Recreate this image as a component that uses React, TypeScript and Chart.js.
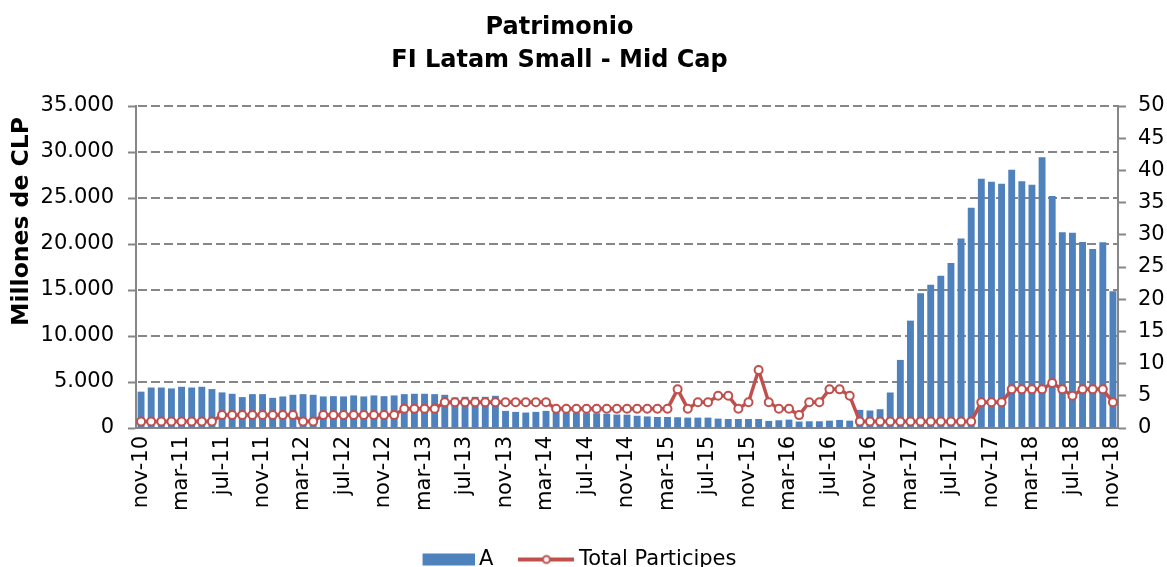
import React, { useEffect, useRef } from 'react';
import { Chart, registerables } from 'chart.js';

Chart.register(...registerables);

const CATEGORIES = [
  'nov-10', 'dic-10',
  'ene-11', 'feb-11', 'mar-11', 'abr-11', 'may-11', 'jun-11', 'jul-11', 'ago-11', 'sep-11', 'oct-11', 'nov-11', 'dic-11',
  'ene-12', 'feb-12', 'mar-12', 'abr-12', 'may-12', 'jun-12', 'jul-12', 'ago-12', 'sep-12', 'oct-12', 'nov-12', 'dic-12',
  'ene-13', 'feb-13', 'mar-13', 'abr-13', 'may-13', 'jun-13', 'jul-13', 'ago-13', 'sep-13', 'oct-13', 'nov-13', 'dic-13',
  'ene-14', 'feb-14', 'mar-14', 'abr-14', 'may-14', 'jun-14', 'jul-14', 'ago-14', 'sep-14', 'oct-14', 'nov-14', 'dic-14',
  'ene-15', 'feb-15', 'mar-15', 'abr-15', 'may-15', 'jun-15', 'jul-15', 'ago-15', 'sep-15', 'oct-15', 'nov-15', 'dic-15',
  'ene-16', 'feb-16', 'mar-16', 'abr-16', 'may-16', 'jun-16', 'jul-16', 'ago-16', 'sep-16', 'oct-16', 'nov-16', 'dic-16',
  'ene-17', 'feb-17', 'mar-17', 'abr-17', 'may-17', 'jun-17', 'jul-17', 'ago-17', 'sep-17', 'oct-17', 'nov-17', 'dic-17',
  'ene-18', 'feb-18', 'mar-18', 'abr-18', 'may-18', 'jun-18', 'jul-18', 'ago-18', 'sep-18', 'oct-18', 'nov-18',
];

// Patrimonio serie A (millones de CLP)
const SERIES_A = [
  3950, 4400, 4400, 4300, 4480, 4400, 4480, 4230, 3870, 3720,
  3360, 3680, 3680, 3280, 3430, 3610, 3680, 3610, 3430, 3460,
  3430, 3540, 3430, 3540, 3460, 3540, 3680, 3720, 3720, 3680,
  3610, 3320, 3390, 3390, 3390, 3500, 1860, 1750, 1680, 1750,
  1860, 1700, 1680, 1650, 1620, 1600, 1550, 1460, 1450, 1330,
  1260, 1200, 1200, 1170, 1130, 1130, 1130, 1020, 980, 980,
  980, 980, 770, 840, 910, 700, 730, 730, 800, 875,
  800, 1970, 1900, 2040, 3860, 7400, 11670, 14660, 15570, 16550,
  17940, 20600, 23950, 27090, 26760, 26540, 28070, 26830, 26430, 29420,
  25230, 21290, 21220, 20230, 19470, 20200, 14870,
];

// Total Participes
const TOTAL_PARTICIPES = [
  1, 1, 1, 1, 1, 1, 1, 1, 2, 2,
  2, 2, 2, 2, 2, 2, 1, 1, 2, 2,
  2, 2, 2, 2, 2, 2, 3, 3, 3, 3,
  4, 4, 4, 4, 4, 4, 4, 4, 4, 4,
  4, 3, 3, 3, 3, 3, 3, 3, 3, 3,
  3, 3, 3, 6, 3, 4, 4, 5, 5, 3,
  4, 9, 4, 3, 3, 2, 4, 4, 6, 6,
  5, 1, 1, 1, 1, 1, 1, 1, 1, 1,
  1, 1, 1, 4, 4, 4, 6, 6, 6, 6,
  7, 6, 5, 6, 6, 6, 4,
];

const TITLE_LINES = ['Patrimonio', 'FI Latam Small - Mid Cap'];
const LEFT_AXIS_TITLE = 'Millones de CLP';
const SERIES_A_LABEL = 'A';
const PARTICIPES_LABEL = 'Total Participes';
const LEFT_MIN = 0;
const LEFT_MAX = 35000;
const LEFT_STEP = 5000;
const RIGHT_MIN = 0;
const RIGHT_MAX = 50;
const RIGHT_STEP = 5;
const LABEL_EVERY = 4;

const BLUE = '#4F81BD';
const RED = '#C0504D';
const AXIS_GRAY = '#868686';
const FONT = "'DejaVu Sans', Verdana, sans-serif";
const DASH = 9;
const GAP = 4;

const W = 1167;
const H = 580;

function fmtThousands(v: number): string {
  return String(Math.round(v)).replace(/\B(?=(\d{3})+(?!\d))/g, '.');
}

function makeImg(w: number, h: number, draw: (ctx: CanvasRenderingContext2D) => void) {
  const c = document.createElement('canvas');
  c.width = w;
  c.height = h;
  const ctx = c.getContext('2d')!;
  draw(ctx);
  return c;
}

export default function App() {
  const ref = useRef<HTMLCanvasElement>(null);

  useEffect(() => {
    const canvas = ref.current!;
    const rectImg = makeImg(56, 14, (ctx) => {
      ctx.fillStyle = BLUE;
      ctx.fillRect(4, 1, 52, 12);
    });
    const lineImg = makeImg(56, 14, (ctx) => {
      ctx.strokeStyle = RED;
      ctx.lineWidth = 4;
      ctx.beginPath();
      ctx.moveTo(0, 7);
      ctx.lineTo(56, 7);
      ctx.stroke();
      ctx.beginPath();
      ctx.arc(28, 7, 3.5, 0, Math.PI * 2);
      ctx.fillStyle = '#fff';
      ctx.fill();
      ctx.lineWidth = 2;
      ctx.stroke();
    });

    // Dashed horizontal grid at every left-axis step, drawn behind the series.
    const drawGrid = (c: any) => {
      const ctx = c.ctx as CanvasRenderingContext2D;
      const area = c.chartArea;
      const ys = c.scales.y;
      const span = LEFT_MAX - LEFT_MIN;
      ctx.save();
      ctx.globalAlpha = 1;
      ctx.globalCompositeOperation = 'source-over';
      ctx.fillStyle = AXIS_GRAY;
      for (let v = LEFT_MIN + LEFT_STEP; v <= LEFT_MAX; v += LEFT_STEP) {
        let py = ys && typeof ys.getPixelForValue === 'function' ? ys.getPixelForValue(v) : NaN;
        if (!isFinite(py)) py = area.bottom - ((v - LEFT_MIN) / span) * (area.bottom - area.top);
        py = Math.round(py);
        for (let x = Math.round(area.left) + 2; x < area.right - 1; x += DASH + GAP) {
          const w = Math.min(DASH, area.right - 1 - x);
          ctx.fillRect(x, py - 1, w, 2);
        }
      }
      ctx.restore();
    };

    const chart = new Chart(canvas, {
      type: 'bar',
      data: {
        labels: CATEGORIES,
        datasets: [
          {
            type: 'bar',
            label: SERIES_A_LABEL,
            data: SERIES_A,
            backgroundColor: BLUE,
            borderWidth: 0,
            barPercentage: 0.68,
            categoryPercentage: 1,
            yAxisID: 'y',
            order: 2,
          },
          {
            type: 'line',
            label: PARTICIPES_LABEL,
            data: TOTAL_PARTICIPES,
            borderColor: RED,
            borderWidth: 3.5,
            pointStyle: 'circle',
            pointRadius: 4,
            pointBorderWidth: 2,
            pointBackgroundColor: '#ffffff',
            pointBorderColor: RED,
            fill: false,
            tension: 0,
            yAxisID: 'y1',
            order: 1,
          },
        ],
      },
      options: {
        responsive: false,
        animation: false,
        layout: { padding: 0 },
        plugins: {
          tooltip: { enabled: false },
          title: {
            display: true,
            text: TITLE_LINES,
            color: '#000',
            font: { family: FONT, size: 24, weight: 'bold', lineHeight: 1.35 },
            padding: { top: 12, bottom: 29.2 },
          },
          legend: {
            display: true,
            position: 'bottom',
            labels: {
              usePointStyle: true,
              pointStyleWidth: 44,
              padding: 31,
              color: '#000',
              font: { family: FONT, size: 21 },
              generateLabels: () => [
                {
                  text: SERIES_A_LABEL,
                  pointStyle: rectImg as any,
                  fillStyle: BLUE,
                  strokeStyle: BLUE,
                  lineWidth: 0,
                  hidden: false,
                  datasetIndex: 0,
                  fontColor: '#000',
                },
                {
                  text: PARTICIPES_LABEL,
                  pointStyle: lineImg as any,
                  fillStyle: RED,
                  strokeStyle: RED,
                  lineWidth: 0,
                  hidden: false,
                  datasetIndex: 1,
                  fontColor: '#000',
                },
              ],
            },
          },
        },
        scales: {
          x: {
            type: 'category',
            offset: true,
            grid: { display: false, drawTicks: false },
            border: { display: true, color: AXIS_GRAY, width: 2 },
            ticks: {
              autoSkip: false,
              maxRotation: 90,
              minRotation: 90,
              padding: 8,
              color: '#000',
              font: { family: FONT, size: 21 },
              callback: (_v: any, i: number) => (i % LABEL_EVERY === 0 ? CATEGORIES[i] : ''),
            },
            afterFit: (s: any) => {
              s.height = 90;
            },
          },
          y: {
            type: 'linear',
            position: 'left',
            min: LEFT_MIN,
            max: LEFT_MAX,
            border: { display: true, color: AXIS_GRAY, width: 2 },
            grid: {
              display: true,
              drawOnChartArea: false,
              drawTicks: true,
              tickLength: 8,
              tickColor: AXIS_GRAY,
              tickWidth: 2,
            },
            ticks: {
              stepSize: LEFT_STEP,
              padding: 14,
              color: '#000',
              font: { family: FONT, size: 21 },
              callback: (v: any) => fmtThousands(Number(v)),
            },
            afterFit: (s: any) => {
              s.width = 136;
            },
          },
          y1: {
            type: 'linear',
            position: 'right',
            min: RIGHT_MIN,
            max: RIGHT_MAX,
            border: { display: true, color: AXIS_GRAY, width: 2 },
            grid: {
              display: true,
              drawOnChartArea: false,
              drawTicks: true,
              tickLength: 8,
              tickColor: AXIS_GRAY,
              tickWidth: 2,
            },
            ticks: {
              stepSize: RIGHT_STEP,
              padding: 12,
              color: '#000',
              font: { family: FONT, size: 21 },
            },
            afterFit: (s: any) => {
              s.width = 49;
            },
          },
        },
      },
      plugins: [
        {
          id: 'layoutTweaks',
          afterLayout: (c: any) => {
            if (c.titleBlock) {
              c.titleBlock.left -= 24;
              c.titleBlock.right -= 24;
            }
            if (c.legend) {
              c.legend.left -= 3;
              c.legend.right -= 3;
            }
          },
        },
        {
          id: 'gridBehindSeries',
          beforeDatasetsDraw: (c: any) => {
            drawGrid(c);
          },
        },
        {
          id: 'leftAxisTitle',
          afterDraw: (c: any) => {
            const ctx = c.ctx as CanvasRenderingContext2D;
            ctx.save();
            ctx.translate(21.5, c.chartArea.top + 11);
            ctx.rotate(-Math.PI / 2);
            ctx.font = `bold 23.5px ${FONT}`;
            ctx.fillStyle = '#000';
            ctx.textAlign = 'right';
            ctx.textBaseline = 'middle';
            ctx.fillText(LEFT_AXIS_TITLE, 0, 0);
            ctx.restore();
          },
        },
      ],
    } as any);

    return () => chart.destroy();
  }, []);

  return (
    <div style={{ position: 'fixed', left: 0, top: 0, width: W, height: H, background: '#fff' }}>
      <canvas ref={ref} width={W} height={H} style={{ display: 'block' }} />
    </div>
  );
}
